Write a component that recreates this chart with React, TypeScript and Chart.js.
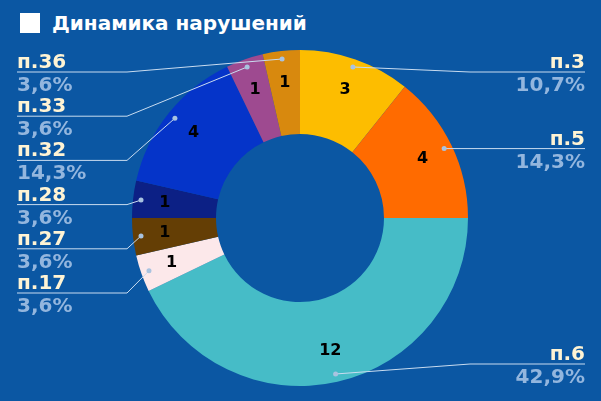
import { useEffect, useRef } from "react";
import Chart from "chart.js/auto";

// Data
const labels = ["п.3", "п.5", "п.6", "п.17", "п.27", "п.28", "п.32", "п.33", "п.36"];
const values = [3, 4, 12, 1, 1, 1, 4, 1, 1];
const colors = [
  "#fdbd00",
  "#ff6b00",
  "#46bcc7",
  "#fce8ea",
  "#643e05",
  "#0c2085",
  "#0534c9",
  "#9e4a90",
  "#d8890e",
];

const BG = "#0b57a3";
const NAME_COLOR = "#fff4d4";
const PCT_COLOR = "#93b6de";
const LINE_COLOR = "#c9dcf0";
const FONT = "'DejaVu Sans', sans-serif";

const total = values.reduce((a, b) => a + b, 0);
const pct = (v: number) => ((v / total) * 100).toFixed(1).replace(".", ",") + "%";

type Lbl = { i: number; ax: number; ay: number; y: number };

const calloutPlugin = {
  id: "callouts",
  afterDatasetsDraw(chart: Chart) {
    const ctx = chart.ctx;
    const meta = chart.getDatasetMeta(0);
    const w = chart.width;
    const left: Lbl[] = [];
    const right: Lbl[] = [];
    let cx = 0;
    let outer = 0;

    meta.data.forEach((el: any, i: number) => {
      const { x, y, startAngle, endAngle, outerRadius } = el.getProps(
        ["x", "y", "startAngle", "endAngle", "outerRadius"],
        true
      );
      cx = x;
      outer = outerRadius;
      const mid = (startAngle + endAngle) / 2;
      // value inside the slice
      const vr = outerRadius * 0.81;
      ctx.save();
      ctx.fillStyle = "#000";
      ctx.font = `bold 16px ${FONT}`;
      ctx.textAlign = "center";
      ctx.textBaseline = "middle";
      ctx.fillText(String(values[i]), x + Math.cos(mid) * vr, y + Math.sin(mid) * vr);
      ctx.restore();

      const ar = outerRadius - 8;
      const ax = x + Math.cos(mid) * ar;
      const ay = y + Math.sin(mid) * ar;
      (ax < x ? left : right).push({ i, ax, ay, y: ay });
    });

    const minY = 72;
    const maxY = 364;
    const gap = 44.2;
    left.sort((a, b) => a.ay - b.ay);
    let prev = -Infinity;
    left.forEach((l) => {
      l.y = Math.max(l.ay, prev + gap, minY);
      prev = l.y;
    });
    right.sort((a, b) => a.ay - b.ay);
    prev = -Infinity;
    right.forEach((l) => {
      l.y = Math.min(Math.max(l.ay, prev + gap, minY), maxY);
      prev = l.y;
    });

    const draw = (l: Lbl, side: "left" | "right") => {
      const elbowX = side === "left" ? cx - outer - 5 : cx + outer + 2;
      const endX = side === "left" ? 17 : w - 16;
      ctx.save();
      ctx.strokeStyle = LINE_COLOR;
      ctx.lineWidth = 1;
      ctx.beginPath();
      ctx.moveTo(l.ax, l.ay);
      ctx.lineTo(elbowX, l.y);
      ctx.lineTo(endX, l.y);
      ctx.stroke();
      ctx.fillStyle = "#a9c3e0";
      ctx.beginPath();
      ctx.arc(l.ax, l.ay, 2.5, 0, Math.PI * 2);
      ctx.fill();

      ctx.textAlign = side === "left" ? "left" : "right";
      ctx.textBaseline = "alphabetic";
      ctx.font = `bold 20px ${FONT}`;
      ctx.fillStyle = NAME_COLOR;
      ctx.fillText(labels[l.i], endX, l.y - 4);
      ctx.fillStyle = PCT_COLOR;
      ctx.fillText(pct(values[l.i]), endX, l.y + 19);
      ctx.restore();
    };
    left.forEach((l) => draw(l, "left"));
    right.forEach((l) => draw(l, "right"));
  },
};

const App = () => {
  const chartRef = useRef<HTMLCanvasElement>(null);
  const chartInstance = useRef<Chart | null>(null);

  useEffect(() => {
    document.body.style.margin = "0";
    if (!chartRef.current) return;
    if (chartInstance.current) chartInstance.current.destroy();
    const ctx = chartRef.current.getContext("2d");
    if (!ctx) return;

    chartInstance.current = new Chart(ctx, {
      type: "doughnut",
      data: {
        labels,
        datasets: [
          {
            data: values,
            backgroundColor: colors,
            borderWidth: 0,
          },
        ],
      },
      options: {
        animation: false,
        responsive: false,
        cutout: "50%",
        layout: { padding: { top: 50, bottom: 15, left: 100, right: 101 } },
        plugins: {
          legend: { display: false },
          tooltip: { enabled: false },
          title: { display: false },
        },
      },
      plugins: [calloutPlugin],
    });

    return () => {
      if (chartInstance.current) {
        chartInstance.current.destroy();
        chartInstance.current = null;
      }
    };
  }, []);

  return (
    <div style={{ position: "relative", width: 601, height: 401, background: BG, overflow: "hidden" }}>
      <div
        style={{
          position: "absolute",
          left: 20,
          top: 11,
          display: "flex",
          alignItems: "center",
          color: "#fff",
          fontFamily: FONT,
          fontWeight: "bold",
          fontSize: 20,
        }}
      >
        <span style={{ display: "inline-block", width: 20, height: 20, background: "#fff", marginRight: 12 }} />
        Динамика нарушений
      </div>
      <canvas ref={chartRef} width={601} height={401} style={{ position: "absolute", left: 0, top: 0 }} />
    </div>
  );
};

export default App;
